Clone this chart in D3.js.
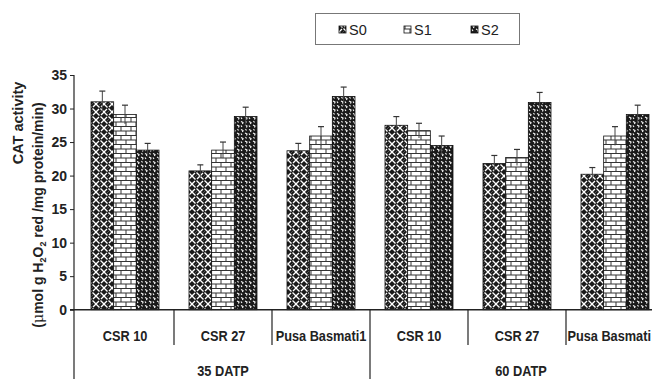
<!DOCTYPE html>
<html><head><meta charset="utf-8">
<script src="https://cdn.jsdelivr.net/npm/d3@7"></script>
<style>body{margin:0;background:#fff}svg{display:block;font-family:"Liberation Sans",Arial,sans-serif}</style>
</head><body><svg id="c" width="652" height="379"></svg>
<script>
const categories = ["CSR 10","CSR 27","Pusa Basmati1","CSR 10","CSR 27","Pusa Basmati"];
const groups = ["35 DATP","60 DATP"];
const series = ["S0","S1","S2"];
const S0 = [31.0,20.7,23.7,27.5,21.8,20.2];
const S1 = [29.1,23.8,25.9,26.7,22.7,25.9];
const S2 = [23.8,28.8,31.8,24.5,30.9,29.1];
const E0 = [1.6,0.9,1.1,1.3,1.2,1.0];
const E1 = [1.4,1.2,1.4,1.1,1.2,1.4];
const E2 = [1.0,1.4,1.4,1.4,1.5,1.4];
const yTicks = [0,5,10,15,20,25,30,35];

const svg = d3.select("#c");
const defs = svg.append("defs");
const p0 = defs.append("pattern").attr("id","p0").attr("patternUnits","userSpaceOnUse").attr("width",8).attr("height",8);
p0.append("rect").attr("width",8).attr("height",8).attr("fill","#1a1a1a");
p0.append("path").attr("d","M0,0L3.5,3.5M4.5,4.5L8,8M8,0L5,3M3,5L0,8M2,-2L4,0M6,10L4,8M-2,6L0,8").attr("stroke","#fff").attr("stroke-width",1.3).attr("fill","none");
const p1 = defs.append("pattern").attr("id","p1").attr("patternUnits","userSpaceOnUse").attr("width",10).attr("height",9);
p1.append("rect").attr("width",10).attr("height",9).attr("fill","#fff");
p1.append("path").attr("d","M0,0.5H10M0,5H10M1,0.5V5M6,5V9").attr("stroke","#333").attr("stroke-width",1).attr("fill","none");
const p2 = defs.append("pattern").attr("id","p2").attr("patternUnits","userSpaceOnUse").attr("width",8).attr("height",8);
p2.append("rect").attr("width",8).attr("height",8).attr("fill","#1a1a1a");
p2.append("path").attr("d","M1,1.5L3,2.5L2.5,4M5,5L7,6L6.5,7.5M5.5,1L6.5,2.5M1,5.5L2,7").attr("stroke","#fff").attr("stroke-width",1.1).attr("fill","none");
const fills = ["url(#p0)","url(#p1)","url(#p2)"];

const y = d3.scaleLinear().domain([0,35]).range([309.7,75]);
const x = d3.scaleBand().domain(d3.range(categories.length)).range([76,664]).paddingInner(0).paddingOuter(0);
const x1 = d3.scaleBand().domain(series).range([15,83]).padding(0);

const vals = [S0,S1,S2], errs=[E0,E1,E2];
const data = [];
categories.forEach((c,i)=>series.forEach((s,j)=>data.push({i,s,j,v:vals[j][i],e:errs[j][i]})));

const g = svg.append("g");
g.selectAll("rect.bar").data(data).join("rect").attr("class","bar")
 .attr("x",d=>x(d.i)+x1(d.s)).attr("width",x1.bandwidth())
 .attr("y",d=>y(d.v)).attr("height",d=>y(0)-y(d.v))
 .attr("fill",d=>fills[d.j]).attr("stroke","#111").attr("stroke-width",0.8);
const eb = g.selectAll("g.err").data(data).join("g").attr("class","err");
eb.append("line").attr("x1",d=>x(d.i)+x1(d.s)+x1.bandwidth()/2).attr("x2",d=>x(d.i)+x1(d.s)+x1.bandwidth()/2)
 .attr("y1",d=>y(d.v-d.e)).attr("y2",d=>y(d.v+d.e)).attr("stroke","#444").attr("stroke-width",1);
eb.append("line").attr("x1",d=>x(d.i)+x1(d.s)+x1.bandwidth()/2-3).attr("x2",d=>x(d.i)+x1(d.s)+x1.bandwidth()/2+3)
 .attr("y1",d=>y(d.v+d.e)).attr("y2",d=>y(d.v+d.e)).attr("stroke","#333").attr("stroke-width",1.2);

const ax = svg.append("g").attr("transform","translate(74,0)")
 .call(d3.axisLeft(y).tickValues(yTicks).tickSize(4).tickSizeOuter(0).tickFormat(d3.format("d")));
ax.select(".domain").remove();
ax.selectAll(".tick line").attr("stroke","#222");
ax.selectAll(".tick text").attr("font-size",14).attr("font-weight","bold").attr("fill","#222").attr("x",-7)
 .attr("font-family","'Liberation Sans',Arial,sans-serif");
svg.append("line").attr("x1",74).attr("x2",74).attr("y1",y(35)).attr("y2",379).attr("stroke","#222").attr("stroke-width",1.2);
svg.append("line").attr("x1",70).attr("x2",652).attr("y1",y(0)).attr("y2",y(0)).attr("stroke","#222").attr("stroke-width",1.5);

d3.range(1,categories.length).forEach(i=>{
  const full = (i===3);
  svg.append("line").attr("x1",x(i)).attr("x2",x(i)).attr("y1",y(0)).attr("y2",full?379:345).attr("stroke","#222").attr("stroke-width",1.2);
});
const last = categories.length-1;
svg.selectAll("text.cat").data(categories).join("text").attr("class","cat")
 .attr("transform",(d,i)=>`translate(${i===last ? 651 : x(i)+x.bandwidth()/2},341) scale(0.88,1)`)
 .attr("text-anchor",(d,i)=> i===last ? "end" : "middle")
 .attr("font-size",14.5).attr("font-weight","bold").attr("fill","#222").text(d=>d);
svg.selectAll("text.grp").data(groups).join("text").attr("class","grp")
 .attr("transform",(d,i)=>`translate(${(x(i*3)+x(i*3+2)+x.bandwidth())/2 + i*4},376) scale(0.88,1)`).attr("text-anchor","middle")
 .attr("font-size",14.5).attr("font-weight","bold").attr("fill","#222").text(d=>d);

svg.append("text").attr("transform","translate(23,123) rotate(-90)").attr("text-anchor","middle")
 .attr("font-size",14.5).attr("font-weight","bold").attr("fill","#222").text("CAT activity");
const t2 = svg.append("text").attr("transform","translate(43,215) rotate(-90)").attr("text-anchor","middle")
 .attr("font-size",14).attr("font-weight","bold").attr("fill","#222");
t2.append("tspan").text("(");
t2.append("tspan").attr("font-weight","normal").attr("font-family","'DejaVu Serif',serif").text("μ");
t2.append("tspan").text("mol  g H");
t2.append("tspan").attr("font-size",9).attr("dy",3).text("2");
t2.append("tspan").attr("dy",-3).text("O");
t2.append("tspan").attr("font-size",9).attr("dy",3).text("2");
t2.append("tspan").attr("dy",-3).text(" red /mg protein/min)");

svg.append("rect").attr("x",315.5).attr("y",13.5).attr("width",204).attr("height",31).attr("fill","#fff").attr("stroke","#777").attr("stroke-width",1);
const lx = [339,404,471];
const lg = svg.selectAll("g.leg").data(series).join("g").attr("class","leg").attr("transform",(d,i)=>`translate(${lx[i]},24)`);
lg.append("rect").attr("width",7).attr("height",7).attr("y",2).attr("fill",(d,i)=>fills[i]).attr("stroke","#111").attr("stroke-width",0.8);
lg.append("text").attr("x",10).attr("y",10.5).attr("font-size",14.5).attr("fill","#222").text(d=>d);
</script></body></html>
